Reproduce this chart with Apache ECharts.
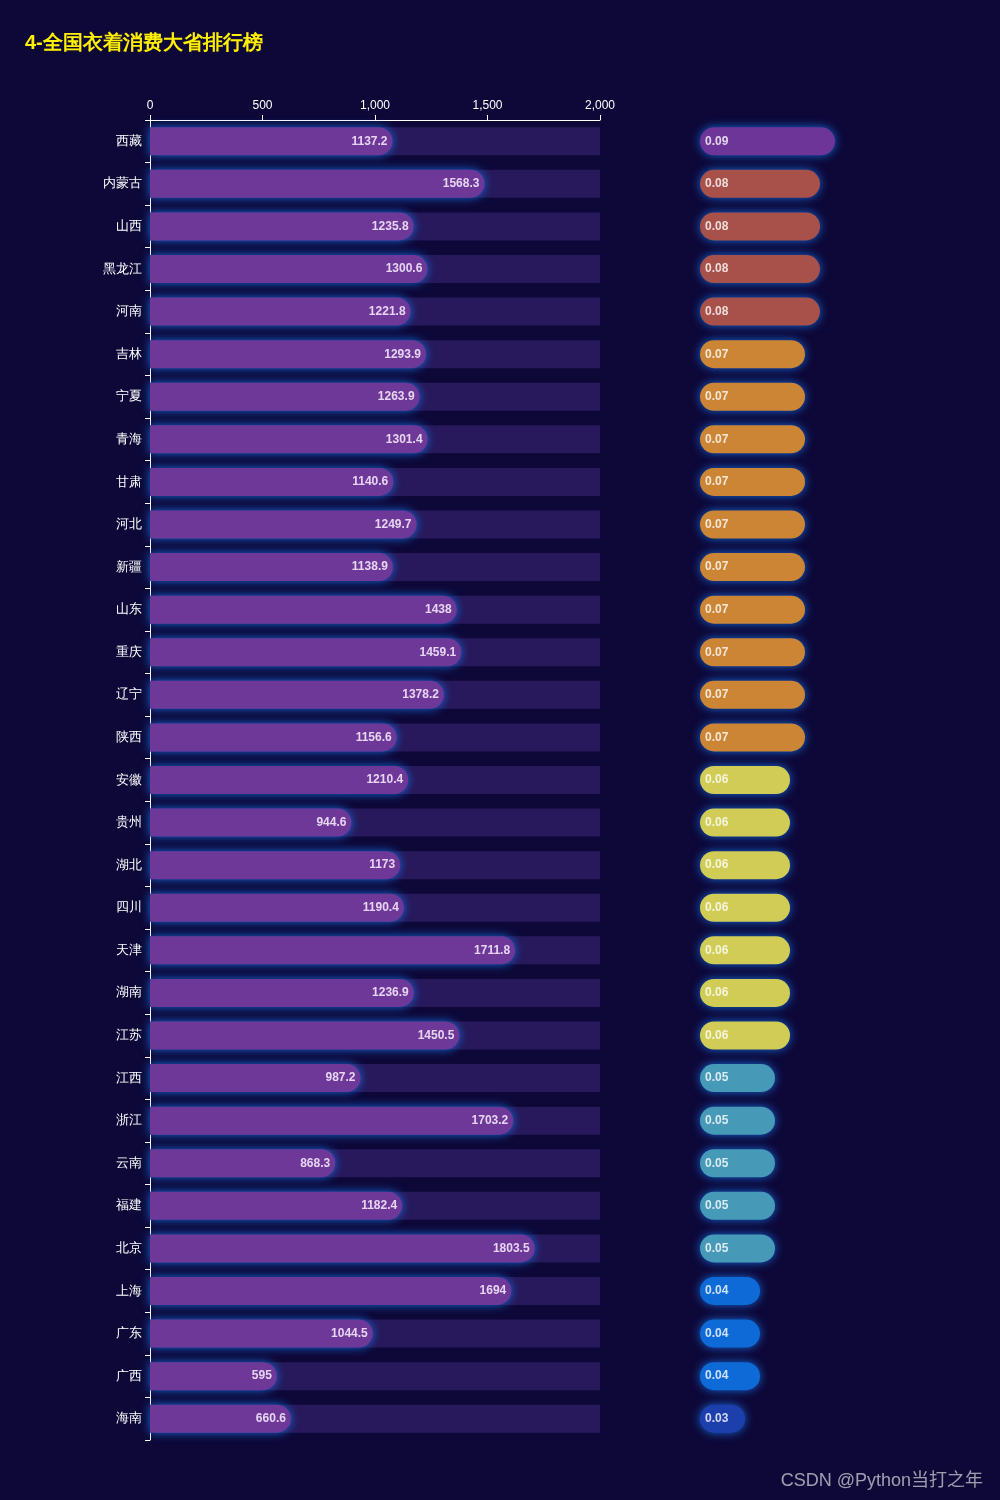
<!DOCTYPE html>
<html>
<head>
<meta charset="utf-8">
<script src="https://cdn.jsdelivr.net/npm/echarts@6/dist/echarts.min.js"></script>
<style>
html,body{margin:0;padding:0;background:#0e0838;}
#main{width:1000px;height:1500px;}
</style>
</head>
<body>
<div id="main"></div>
<script>
const provinces = ['西藏','内蒙古','山西','黑龙江','河南','吉林','宁夏','青海','甘肃','河北','新疆','山东','重庆','辽宁','陕西','安徽','贵州','湖北','四川','天津','湖南','江苏','江西','浙江','云南','福建','北京','上海','广东','广西','海南'];
const spending = [1137.2,1568.3,1235.8,1300.6,1221.8,1293.9,1263.9,1301.4,1140.6,1249.7,1138.9,1438,1459.1,1378.2,1156.6,1210.4,944.6,1173,1190.4,1711.8,1236.9,1450.5,987.2,1703.2,868.3,1182.4,1803.5,1694,1044.5,595,660.6];
const ratio = [0.09,0.08,0.08,0.08,0.08,0.07,0.07,0.07,0.07,0.07,0.07,0.07,0.07,0.07,0.07,0.06,0.06,0.06,0.06,0.06,0.06,0.06,0.05,0.05,0.05,0.05,0.05,0.04,0.04,0.04,0.03];
const ratioColors = {'0.09':'#6e3599','0.08':'#a8504a','0.07':'#cc8535','0.06':'#d0cc55','0.05':'#4699b7','0.04':'#0e6ad6','0.03':'#1d3fae'};

const chart = echarts.init(document.getElementById('main'));
const option = {
  backgroundColor: '#0e0838',
  title: {
    text: '4-全国衣着消费大省排行榜',
    left: 20, top: 28,
    textStyle: {color: '#fff000', fontSize: 20, fontWeight: 'bold'}
  },
  graphic: [{
    type: 'text', right: 17, bottom: 10,
    style: {text: 'CSDN @Python当打之年', fill: 'rgba(255,255,255,0.6)', fontSize: 18, fontFamily: 'Liberation Sans, Noto Sans CJK SC'}
  }],
  grid: [
    {left: 150, width: 450, top: 120, bottom: 60},
    {left: 700, width: 300, top: 120, bottom: 60}
  ],
  xAxis: [
    {gridIndex: 0, type: 'value', position: 'top', min: 0, max: 2000, interval: 500,
     axisLine: {show: true, lineStyle: {color: '#ffffff'}},
     axisTick: {show: true, lineStyle: {color: '#ffffff'}},
     axisLabel: {color: '#ffffff', fontSize: 12},
     splitLine: {show: false}},
    {gridIndex: 0, type: 'value', min: 0, max: 2110, show: false},
    {gridIndex: 1, type: 'value', min: 0, max: 0.2, show: false}
  ],
  yAxis: [
    {gridIndex: 0, type: 'category', data: provinces, inverse: true,
     axisLine: {show: true, lineStyle: {color: '#ffffff'}},
     axisTick: {show: true, lineStyle: {color: '#ffffff'}},
     axisLabel: {color: '#ffffff', fontSize: 13}},
    {gridIndex: 1, type: 'category', data: provinces, inverse: true, show: false}
  ],
  series: [
    {type: 'bar', xAxisIndex: 1, yAxisIndex: 0, data: spending, barWidth: 28,
     showBackground: true,
     backgroundStyle: {color: 'rgba(60,40,120,0.55)'},
     itemStyle: {color: '#6e3899', borderRadius: [0, 14, 14, 0], shadowBlur: 10, shadowColor: 'rgba(20,130,255,0.8)'},
     label: {show: true, position: 'insideRight', color: '#e6d6f2', fontWeight: 'bold', fontSize: 12}},
    {type: 'bar', xAxisIndex: 2, yAxisIndex: 1, data: ratio, barWidth: 28,
     itemStyle: {color: p => ratioColors[p.value.toFixed(2)], borderRadius: 14, shadowBlur: 10, shadowColor: 'rgba(20,130,255,0.8)'},
     label: {show: true, position: 'insideLeft', color: 'rgba(255,255,255,0.8)', fontWeight: 'bold', fontSize: 12}}
  ]
};
chart.setOption(option);
</script>
</body>
</html>
